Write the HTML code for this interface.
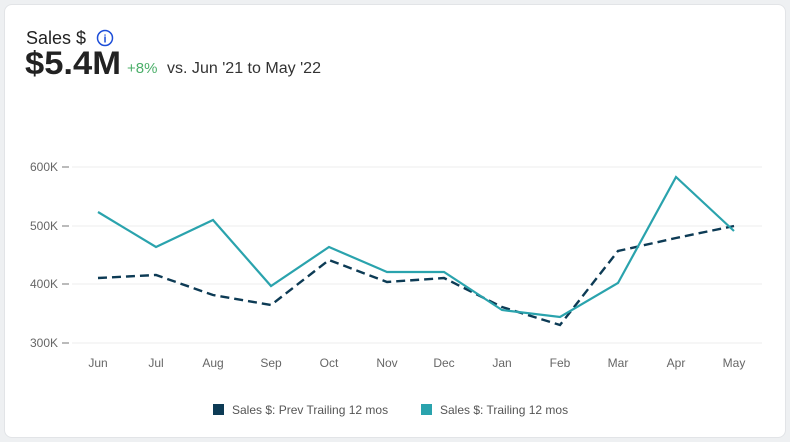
<!DOCTYPE html>
<html><head><style>
body{margin:0;width:790px;height:442px;background:#eef0f2;font-family:"Liberation Sans",sans-serif;overflow:hidden}
.card{position:absolute;left:4px;top:4px;width:780px;height:432px;background:#fff;border:1px solid #e2e4e7;border-radius:8px}
</style></head><body>
<div class="card"></div>
<svg width="790" height="442" style="position:absolute;left:0;top:0">
<text x="26" y="44" font-size="18" fill="#222">Sales $</text>
<circle cx="105" cy="38" r="7.5" fill="none" stroke="#1d4ed8" stroke-width="1.5"/>
<text x="105" y="42.5" font-size="11" fill="#1d4ed8" text-anchor="middle" font-weight="bold">i</text>
<text x="25" y="74" font-size="32" font-weight="bold" fill="#222" textLength="96" lengthAdjust="spacingAndGlyphs">$5.4M</text>
<text x="127" y="73" font-size="15" fill="#4caf6a">+8%</text>
<text x="167" y="73" font-size="15.5" fill="#333" textLength="154" lengthAdjust="spacingAndGlyphs">vs. Jun '21 to May '22</text>
<g stroke="#ececec" stroke-width="1">
<line x1="72" y1="167" x2="762" y2="167"/><line x1="72" y1="226" x2="762" y2="226"/>
<line x1="72" y1="284" x2="762" y2="284"/><line x1="72" y1="343" x2="762" y2="343"/>
</g>
<g stroke="#777" stroke-width="1">
<line x1="62" y1="167" x2="69" y2="167"/><line x1="62" y1="226" x2="69" y2="226"/>
<line x1="62" y1="284" x2="69" y2="284"/><line x1="62" y1="343" x2="69" y2="343"/>
</g>
<g font-size="12" fill="#666" text-anchor="end">
<text x="58" y="171">600K</text><text x="58" y="230">500K</text><text x="58" y="288">400K</text><text x="58" y="347">300K</text>
</g>
<g font-size="12" fill="#666" text-anchor="middle">
<text x="98" y="367">Jun</text><text x="156" y="367">Jul</text><text x="213" y="367">Aug</text><text x="271" y="367">Sep</text><text x="329" y="367">Oct</text><text x="387" y="367">Nov</text><text x="444" y="367">Dec</text><text x="502" y="367">Jan</text><text x="560" y="367">Feb</text><text x="618" y="367">Mar</text><text x="676" y="367">Apr</text><text x="734" y="367">May</text>
</g>
<polyline fill="none" stroke="#0d3b55" stroke-width="2.4" stroke-dasharray="9,5" points="98,278 156,275 213,295 271,305 329,260 387,282 444,278 502,307 560,325 618,251 676,238 734,226"/>
<polyline fill="none" stroke="#2aa3ad" stroke-width="2.2" points="98,212 156,247 213,220 271,286 329,247 387,272 444,272 502,310 560,317 618,283 676,177 734,231"/>
<rect x="213" y="404" width="11" height="11" fill="#0d3b55"/>
<text x="232" y="414" font-size="12" fill="#555">Sales $: Prev Trailing 12 mos</text>
<rect x="421" y="404" width="11" height="11" fill="#2aa3ad"/>
<text x="440" y="414" font-size="12" fill="#555">Sales $: Trailing 12 mos</text>
</svg>
</body></html>
